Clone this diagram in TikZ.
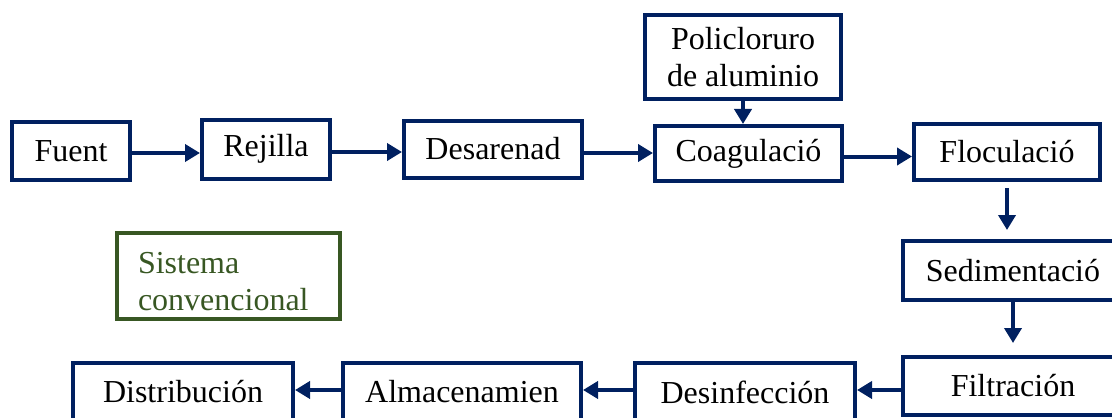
\documentclass[tikz,border=0pt]{standalone}
\usepackage{fontspec}
\setmainfont{Liberation Serif}
\usetikzlibrary{arrows.meta,positioning}

\definecolor{navy}{HTML}{002060}
\definecolor{darkgreen}{HTML}{385723}

\begin{document}
\begin{tikzpicture}[x=0.5pt,y=-0.5pt,
  box/.style={draw=navy, line width=2pt, inner sep=0pt, align=center,
    font=\fontsize{16}{18.5}\selectfont},
  arr/.style={navy, line width=2pt, -{Triangle[length=7.5pt,width=8.5pt]}}]
% Page frame
\useasboundingbox (0,0) rectangle (1112,417);
\clip (0,0) rectangle (1112,417);

% Top row
\node[box, minimum width=59pt, minimum height=29pt] (fuent) at (71,151) {Fuent};
\node[box, minimum width=64pt, minimum height=29.5pt] (rejilla) at (266,149) {Rejilla};
\node[box, minimum width=89pt, minimum height=28.5pt] (desarenad) at (493,149) {Desarenad};
\node[box, minimum width=93.5pt, minimum height=27.5pt] (coag) at (748.5,153.5) {Coagulació};
\node[box, minimum width=93pt, minimum height=28pt] (floc) at (1007,152) {Floculació};
\node[box, minimum width=98pt, minimum height=42pt] (poli) at (743,57) {Policloruro\\de aluminio};

% Right column
\node[box, minimum width=110pt, minimum height=29.5pt] (sedim) at (1013,270.5) {Sedimentació};
\node[box, minimum width=110pt, minimum height=29pt] (filt) at (1013,386) {Filtración};

% Bottom row
\node[box, minimum width=110pt, minimum height=29pt] (desinf) at (745,392) {Desinfección};
\node[box, minimum width=119pt, minimum height=29pt] (almac) at (462,392) {Almacenamien};
\node[box, minimum width=110pt, minimum height=29pt] (distrib) at (183,392) {Distribución};

% Label box
\node[box, draw=darkgreen, text=darkgreen, align=left, inner xsep=10.5pt,
  text width=90.5pt, minimum height=43pt] (sistema) at (228.5,276)
  {\rule{0pt}{16pt}Sistema\\convencional};

% Connectors
\draw[arr] ([yshift=-1pt]fuent.east) -- ([yshift=-1pt]rejilla.west |- fuent.east);
\draw[arr] ([yshift=-1.5pt]rejilla.east) -- ([yshift=-1.5pt]desarenad.west |- rejilla.east);
\draw[arr] ([yshift=-2pt]desarenad.east) -- ([yshift=-2pt]coag.west |- desarenad.east);
\draw[arr] ([yshift=-1.5pt]coag.east) -- ([yshift=-1.5pt]floc.west |- coag.east);
\draw[arr] (poli.south) -- (poli.south |- coag.north);
\draw[arr, shorten <=3pt, shorten >=4.5pt] (floc.south) -- (floc.south |- sedim.north);
\draw[arr, shorten >=6pt] (sedim.south) -- (sedim.south |- filt.north);
\draw[arr] ([yshift=1pt]filt.west |- desinf.east) -- ([yshift=1pt]desinf.east);
\draw[arr] ([yshift=1pt]desinf.west) -- ([yshift=1pt]almac.east);
\draw[arr] ([yshift=1pt]almac.west) -- ([yshift=1pt]distrib.east);
\end{tikzpicture}
\end{document}
